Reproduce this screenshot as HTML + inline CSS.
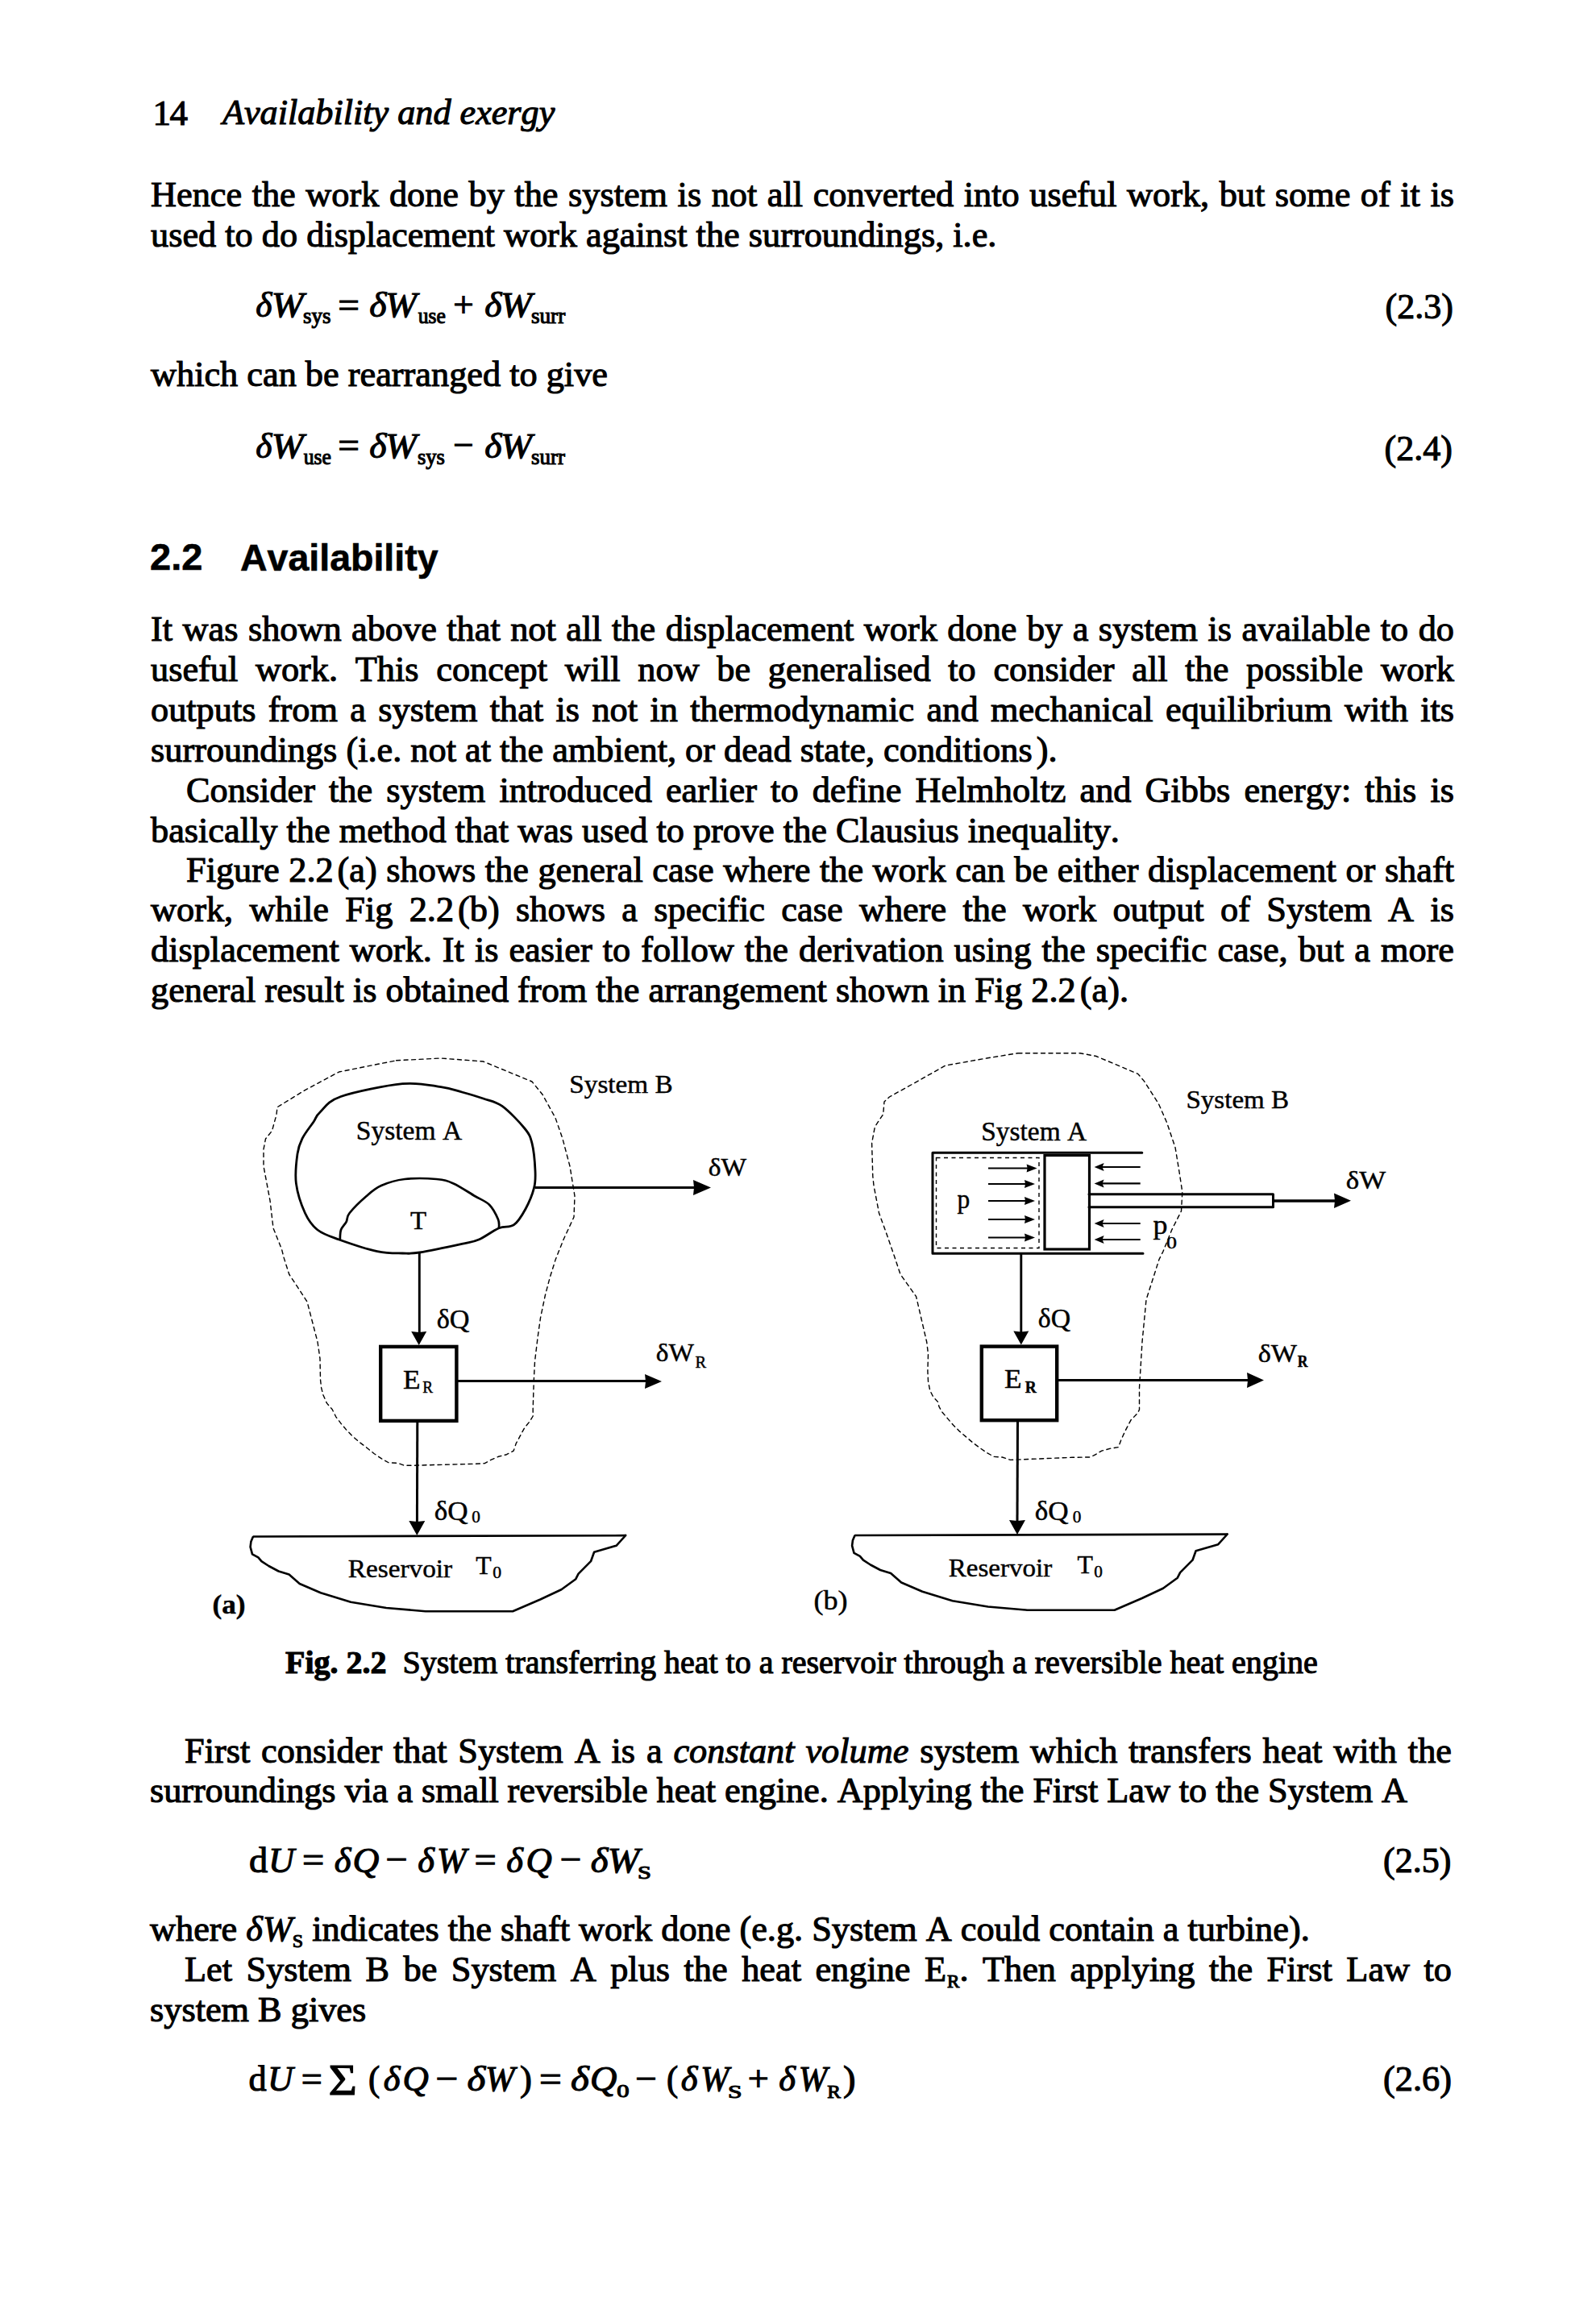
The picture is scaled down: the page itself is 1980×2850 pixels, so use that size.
<!DOCTYPE html>
<html><head><meta charset="utf-8"><title>Availability and exergy</title>
<style>
html,body{margin:0;padding:0;background:#fff;}
body{width:1980px;height:2850px;position:relative;overflow:hidden;color:#000;}
.t{position:absolute;white-space:nowrap;font-family:"Liberation Serif",serif;font-size:44.3px;line-height:44px;-webkit-text-stroke:1.1px #000;font-kerning:none;}
.j{text-align:justify;text-align-last:justify;white-space:nowrap;}
.t sub{font-size:24px;vertical-align:-8px;line-height:0;}
.t sub.r{font-size:23px;vertical-align:-8px;margin-left:1px;}
svg{position:absolute;left:0;top:0;}
svg text{font-family:"Liberation Serif",serif;font-kerning:none;stroke:#000;stroke-width:1.1px;}
svg .fig text{stroke-width:0.45px;}
</style></head><body>
<div class="t j" style="left:187px;top:220.0px;width:1617px;">Hence the work done by the system is not all converted into useful work, but some of it is</div>
<div class="t" style="left:187px;top:269.5px;">used to do displacement work against the surroundings, i.e.</div>
<div class="t" style="left:187px;top:443.0px;">which can be rearranged to give</div>
<div class="t j" style="left:187px;top:758.5px;width:1617px;">It was shown above that not all the displacement work done by a system is available to do</div>
<div class="t j" style="left:187px;top:808.5px;width:1617px;">useful work. This concept will now be generalised to consider all the possible work</div>
<div class="t j" style="left:187px;top:858.7px;width:1617px;">outputs from a system that is not in thermodynamic and mechanical equilibrium with its</div>
<div class="t" style="left:187px;top:909.0px;">surroundings (i.e. not at the ambient, or dead state, conditions<span style="margin-left:5px"></span>).</div>
<div class="t j" style="left:231px;top:959.2px;width:1573px;">Consider the system introduced earlier to define Helmholtz and Gibbs energy: this is</div>
<div class="t" style="left:187px;top:1009.0px;">basically the method that was used to prove the Clausius inequality.</div>
<div class="t j" style="left:231px;top:1057.5px;width:1573px;">Figure 2.2<span style="margin-left:5px"></span>(a) shows the general case where the work can be either displacement or shaft</div>
<div class="t j" style="left:187px;top:1107.0px;width:1617px;">work, while Fig 2.2<span style="margin-left:5px"></span>(b) shows a specific case where the work output of System A is</div>
<div class="t j" style="left:187px;top:1156.5px;width:1617px;">displacement work. It is easier to follow the derivation using the specific case, but a more</div>
<div class="t" style="left:187px;top:1206.5px;">general result is obtained from the arrangement shown in Fig 2.2<span style="margin-left:5px"></span>(a).</div>
<div class="t j" style="left:229px;top:2151.0px;width:1572px;">First consider that System A is a <i>constant volume</i> system which transfers heat with the</div>
<div class="t" style="left:186px;top:2200.0px;letter-spacing:-0.07px;">surroundings via a small reversible heat engine. Applying the First Law to the System A</div>
<div class="t" style="left:186px;top:2372.0px;">where <i>&#948;W</i><sub>S</sub> indicates the shaft work done (e.g. System A could contain a turbine).</div>
<div class="t j" style="left:229px;top:2422.0px;width:1572px;">Let System B be System A plus the heat engine E<sub class='r'>R</sub>. Then applying the First Law to</div>
<div class="t" style="left:186px;top:2471.5px;">system B gives</div>
<div class="t" style="left:189.5px;top:117.5px;font-size:45px;letter-spacing:-1.5px">14</div>
<div class="t" style="left:276px;top:118.0px;font-style:italic;font-size:44.2px">Availability and exergy</div>
<div class="t" style="left:186px;top:668.0px;font-family:'Liberation Sans',sans-serif;font-weight:bold;font-size:47px;line-height:46px;-webkit-text-stroke:0.6px #000">2.2</div>
<div class="t" style="left:298px;top:668.5px;font-family:'Liberation Sans',sans-serif;font-weight:bold;font-size:46.5px;line-height:46px;-webkit-text-stroke:0.6px #000">Availability</div>
<div class="t" style="left:354px;top:2043.0px;font-size:40px;line-height:40px"><b>Fig. 2.2</b>&nbsp; System transferring heat to a reservoir through a reversible heat engine</div>
<svg width="1980" height="2850" viewBox="0 0 1980 2850">
<text transform="translate(317.23,393) scale(0.966,1)" style="font-size:45px;font-style:italic;">&#948;</text>
<text transform="translate(336.83,393) scale(1.068,1)" style="font-size:45px;font-style:italic;">W</text>
<text transform="translate(375.89,401)" style="font-size:27px;">sys</text>
<text transform="translate(419.15,392.5) scale(1.075,1)" style="font-size:44px;">=</text>
<text transform="translate(458.16,393) scale(1.015,1)" style="font-size:45px;font-style:italic;">&#948;</text>
<text transform="translate(477.91,393) scale(1.042,1)" style="font-size:45px;font-style:italic;">W</text>
<text transform="translate(518.66,401) scale(0.951,1)" style="font-size:27px;">use</text>
<text transform="translate(562.25,392.5) scale(1.026,1)" style="font-size:44px;">+</text>
<text transform="translate(601.16,393) scale(1.015,1)" style="font-size:45px;font-style:italic;">&#948;</text>
<text transform="translate(620.91,393) scale(1.042,1)" style="font-size:45px;font-style:italic;">W</text>
<text transform="translate(658.88,401) scale(1.009,1)" style="font-size:27px;">surr</text>
<text transform="translate(317.23,567.5) scale(0.966,1)" style="font-size:45px;font-style:italic;">&#948;</text>
<text transform="translate(336.83,567.5) scale(1.068,1)" style="font-size:45px;font-style:italic;">W</text>
<text transform="translate(376.66,575.5) scale(0.951,1)" style="font-size:27px;">use</text>
<text transform="translate(419.15,567.0) scale(1.075,1)" style="font-size:44px;">=</text>
<text transform="translate(458.16,567.5) scale(1.015,1)" style="font-size:45px;font-style:italic;">&#948;</text>
<text transform="translate(477.91,567.5) scale(1.042,1)" style="font-size:45px;font-style:italic;">W</text>
<text transform="translate(517.91,575.5) scale(0.987,1)" style="font-size:27px;">sys</text>
<text transform="translate(562.25,567.0) scale(1.026,1)" style="font-size:44px;">&#8722;</text>
<text transform="translate(601.16,567.5) scale(1.015,1)" style="font-size:45px;font-style:italic;">&#948;</text>
<text transform="translate(620.91,567.5) scale(1.042,1)" style="font-size:45px;font-style:italic;">W</text>
<text transform="translate(658.90,575.5)" style="font-size:27px;">surr</text>
<text transform="translate(308.93,2322.5) scale(1.052,1)" style="font-size:44px;">d</text>
<text transform="translate(332.91,2322.5) scale(0.990,1)" style="font-size:45px;font-style:italic;">U</text>
<text transform="translate(375.09,2322.0) scale(1.099,1)" style="font-size:44px;">=</text>
<text transform="translate(414.69,2322.5) scale(0.990,1)" style="font-size:45px;font-style:italic;">&#948;</text>
<text transform="translate(437.49,2322.5) scale(1.011,1)" style="font-size:45px;font-style:italic;">Q</text>
<text transform="translate(478.59,2322.0) scale(1.099,1)" style="font-size:44px;">&#8722;</text>
<text transform="translate(518.19,2322.5) scale(0.990,1)" style="font-size:45px;font-style:italic;">&#948;</text>
<text transform="translate(542.11,2322.5) scale(0.976,1)" style="font-size:45px;font-style:italic;">W</text>
<text transform="translate(588.59,2322.0) scale(1.099,1)" style="font-size:44px;">=</text>
<text transform="translate(628.19,2322.5) scale(0.990,1)" style="font-size:45px;font-style:italic;">&#948;</text>
<text transform="translate(652.53,2322.5) scale(0.994,1)" style="font-size:45px;font-style:italic;">Q</text>
<text transform="translate(694.65,2322.0) scale(1.075,1)" style="font-size:44px;">&#8722;</text>
<text transform="translate(732.63,2322.5) scale(1.040,1)" style="font-size:45px;font-style:italic;">&#948;</text>
<text transform="translate(753.87,2322.5) scale(1.055,1)" style="font-size:45px;font-style:italic;">W</text>
<text transform="translate(790.96,2330.6) scale(1.268,1)" style="font-size:24px;">S</text>
<text transform="translate(308.40,2594) scale(1.006,1)" style="font-size:44px;">d</text>
<text transform="translate(331.98,2594) scale(0.974,1)" style="font-size:45px;font-style:italic;">U</text>
<text transform="translate(373.70,2593.5) scale(1.050,1)" style="font-size:44px;">=</text>
<text transform="translate(407.62,2599) scale(1.087,1)" style="font-size:56px;">&#931;</text>
<text transform="translate(457.12,2594) scale(0.973,1)" style="font-size:44px;">(</text>
<text transform="translate(475.69,2594) scale(0.990,1)" style="font-size:45px;font-style:italic;">&#948;</text>
<text transform="translate(499.53,2594) scale(0.994,1)" style="font-size:45px;font-style:italic;">Q</text>
<text transform="translate(540.54,2593.5) scale(1.123,1)" style="font-size:44px;">&#8722;</text>
<text transform="translate(579.56,2594) scale(1.089,1)" style="font-size:45px;font-style:italic;">&#948;</text>
<text transform="translate(602.11,2594) scale(0.976,1)" style="font-size:45px;font-style:italic;">W</text>
<text transform="translate(645.06,2594) scale(1.018,1)" style="font-size:44px;">)</text>
<text transform="translate(669.04,2593.5) scale(1.123,1)" style="font-size:44px;">=</text>
<text transform="translate(708.06,2594) scale(1.089,1)" style="font-size:45px;font-style:italic;">&#948;</text>
<text transform="translate(731.95,2594) scale(1.028,1)" style="font-size:45px;font-style:italic;">Q</text>
<text transform="translate(765.33,2602) scale(1.278,1)" style="font-size:24px;">0</text>
<text transform="translate(788.15,2593.5) scale(1.075,1)" style="font-size:44px;">&#8722;</text>
<text transform="translate(827.12,2594) scale(0.973,1)" style="font-size:44px;">(</text>
<text transform="translate(844.69,2594) scale(0.990,1)" style="font-size:45px;font-style:italic;">&#948;</text>
<text transform="translate(869.22,2594) scale(0.936,1)" style="font-size:45px;font-style:italic;">W</text>
<text transform="translate(902.89,2602.5) scale(1.317,1)" style="font-size:24px;">S</text>
<text transform="translate(927.70,2593.5) scale(1.050,1)" style="font-size:44px;">+</text>
<text transform="translate(966.19,2594) scale(0.990,1)" style="font-size:45px;font-style:italic;">&#948;</text>
<text transform="translate(990.68,2594) scale(0.949,1)" style="font-size:45px;font-style:italic;">W</text>
<text transform="translate(1026.28,2602.5) scale(1.047,1)" style="font-size:24px;">R</text>
<text transform="translate(1045.99,2594) scale(1.062,1)" style="font-size:44px;">)</text>
<text transform="translate(1718.56,395)" style="font-size:44px;">(2.3)</text>
<text transform="translate(1717.56,570.5)" style="font-size:44px;">(2.4)</text>
<text transform="translate(1716.06,2322.5)" style="font-size:44px;">(2.5)</text>
<text transform="translate(1716.05,2594) scale(1.007,1)" style="font-size:44px;">(2.6)</text>
<g class="fig">
<path d="M491.6,1315.8 L547.0,1313.0 L599.5,1317.0 L660.0,1342.0 L673.0,1358.0 L689.0,1387.0 L698.0,1413.0 L707.0,1447.0 L713.0,1484.0 L712.0,1510.0 L699.5,1537.0 L689.3,1562.4 L682.3,1584.7 L676.4,1607.0 L670.5,1635.2 L667.0,1660.0 L663.5,1689.3 L662.3,1712.8 L661.2,1748.0 L661.2,1757.0 L657.4,1763.3 L650.7,1771.6 L645.4,1781.4 L640.2,1791.1 L637.1,1800.2 L628.5,1804.7 L618.3,1807.3 L609.0,1811.4 L601.4,1815.6 L589.0,1816.3 L513.7,1818.2 L501.3,1818.2 L493.4,1815.3 L482.1,1814.8 L473.1,1809.7 L464.0,1803.5 L455.0,1796.2 L446.0,1789.4 L438.1,1782.6 L430.2,1774.7 L423.5,1766.8 L416.7,1757.8 L412.2,1748.8 L405.4,1740.9 L400.9,1730.7 L398.6,1721.7 L397.5,1711.6 L397.0,1685.6 L394.0,1665.0 L381.0,1615.0 L358.7,1581.0 L352.0,1560.0 L349.5,1550.0 L339.0,1523.7 L335.0,1489.5 L327.0,1447.0 L327.0,1426.0 L329.5,1413.0 L337.5,1403.0 L343.0,1383.0 L344.0,1373.7 L378.4,1352.6 L420.5,1330.0 Z" fill="none" stroke="#000" stroke-width="1.4" stroke-linejoin="round" stroke-linecap="round" stroke-dasharray="5 4.5"/>
<path d="M499.5,1344.7 C520.2,1342.7 534.8,1347.0 547.0,1348.7 C559.2,1350.4 564.2,1352.6 573.0,1355.0 C581.8,1357.4 591.2,1360.1 599.5,1363.0 C607.8,1365.9 614.5,1366.2 623.0,1372.4 C631.5,1378.6 644.6,1392.3 650.8,1400.0 C657.0,1407.7 657.8,1409.6 660.0,1418.4 C662.2,1427.2 663.6,1443.4 664.0,1452.6 C664.4,1461.8 664.6,1465.8 662.6,1473.7 C660.6,1481.6 656.2,1492.3 652.0,1500.0 C647.8,1507.7 643.1,1515.8 637.6,1519.7 C632.1,1523.7 626.3,1520.7 619.0,1523.7 C611.7,1526.8 601.7,1534.7 594.0,1538.0 C586.3,1541.3 585.2,1540.7 573.0,1543.4 C560.8,1546.1 532.8,1552.1 520.5,1554.0 C508.2,1555.9 508.2,1555.2 499.5,1555.0 C490.8,1554.8 481.2,1555.4 468.0,1552.6 C454.8,1549.8 432.8,1542.4 420.5,1538.0 C408.2,1533.6 401.0,1531.5 394.0,1526.0 C387.0,1520.5 382.8,1514.6 378.4,1505.0 C374.0,1495.4 369.0,1480.6 367.4,1468.4 C365.8,1456.2 367.7,1440.9 369.0,1431.6 C370.3,1422.3 371.7,1419.2 375.0,1412.6 C378.3,1406.0 385.3,1397.4 389.0,1392.0 C392.7,1386.6 391.3,1385.2 397.0,1380.0 C402.7,1374.8 405.9,1366.4 423.0,1360.5 C440.1,1354.6 478.8,1346.7 499.5,1344.7 Z" fill="none" stroke="#000" stroke-width="2.8" stroke-linejoin="round"/>
<path d="M421.8,1538.0 C422.0,1536.0 421.7,1529.7 423.0,1526.0 C424.3,1522.3 427.9,1519.3 429.7,1515.8 C431.5,1512.3 429.5,1510.3 433.7,1505.0 C437.9,1499.7 448.1,1489.7 454.7,1484.0 C461.2,1478.3 465.1,1474.5 473.0,1471.0 C480.9,1467.5 490.6,1464.3 502.0,1463.0 C513.4,1461.7 531.5,1462.1 541.6,1463.0 C551.7,1463.9 554.7,1464.9 562.6,1468.4 C570.5,1471.9 581.6,1479.6 589.0,1484.0 C596.4,1488.4 602.2,1489.9 607.0,1494.7 C611.8,1499.5 616.0,1508.2 618.0,1513.0 C620.0,1517.8 618.8,1521.9 619.0,1523.7" fill="none" stroke="#000" stroke-width="2.7" stroke-linejoin="round"/>
<text transform="translate(441.75,1413.7) scale(1.017,1)" style="font-size:33px;">System A</text>
<text transform="translate(508.91,1525) scale(1.025,1)" style="font-size:32px;">T</text>
<text transform="translate(706.28,1355.6) scale(1.023,1)" style="font-size:32.5px;">System B</text>
<line x1="664" y1="1473.5" x2="864" y2="1473.5" stroke="#000" stroke-width="3.0"/>
<path d="M882,1473.5 L860,1464.0 L861,1473.5 L860,1483.0 Z" fill="#000"/>
<text transform="translate(878.74,1459) scale(1.029,1)" style="font-size:32.5px;">&#948;W</text>
<line x1="520.3" y1="1555" x2="520.3" y2="1656" stroke="#000" stroke-width="2.9"/>
<path d="M519.7,1669 L510.20000000000005,1652 L519.7,1653 L529.2,1652 Z" fill="#000"/>
<text transform="translate(541.71,1647.6) scale(1.038,1)" style="font-size:33px;">&#948;Q</text>
<rect x="472.2" y="1670.9" width="94.2" height="92" fill="none" stroke="#000" stroke-width="4.4"/>
<text transform="translate(499.98,1722.8) scale(1.039,1)" style="font-size:34px;">E</text>
<text transform="translate(524.25,1727.8) scale(0.958,1)" style="font-size:20px;">R</text>
<line x1="568" y1="1713.6" x2="803" y2="1713.6" stroke="#000" stroke-width="3.0"/>
<path d="M821,1714 L800,1705.0 L801,1714 L800,1723.0 Z" fill="#000"/>
<text transform="translate(813.75,1689.2) scale(1.025,1)" style="font-size:32.5px;">&#948;W</text>
<text transform="translate(862.41,1696.6) scale(1.021,1)" style="font-size:20px;">R</text>
<line x1="517.8" y1="1764" x2="517.4" y2="1890" stroke="#000" stroke-width="3.0"/>
<path d="M517.3,1905 L507.29999999999995,1887 L517.3,1888 L527.3,1887 Z" fill="#000"/>
<text transform="translate(538.68,1885.8) scale(1.065,1)" style="font-size:33px;">&#948;Q</text>
<text transform="translate(585.19,1889) scale(1.062,1)" style="font-size:20px;">0</text>
<path d="M313.8,1907.1 L311.4,1912.8 L310.6,1919.3 L313.0,1928.3 L320.4,1932.4 L324.4,1937.2 L333.4,1943.0 L345.6,1949.5 L358.6,1953.5 L371.7,1965.0 L397.8,1976.3 L435.2,1987.8 L479.2,1995.0 L528.0,1999.2 L636.1,1999.2 L670.3,1984.5 L696.4,1972.3 L714.3,1959.2 L717.6,1952.7 L733.0,1937.2 L737.1,1925.8 L764.8,1917.7 L776.2,1905.0" fill="none" stroke="#000" stroke-width="2.6" stroke-linejoin="round" stroke-linecap="round"/>
<line x1="313.8" y1="1906.5" x2="776.2" y2="1905.2" stroke="#000" stroke-width="2.7"/>
<text transform="translate(431.74,1956.8) scale(1.025,1)" style="font-size:32.5px;">Reservoir</text>
<text transform="translate(590.23,1953) scale(0.993,1)" style="font-size:32px;">T</text>
<text transform="translate(611.17,1957.8) scale(1.085,1)" style="font-size:20px;">0</text>
<text transform="translate(263.45,2002) scale(1.068,1)" style="font-size:33px;font-weight:bold;">(a)</text>
<path d="M1263.0,1306.7 L1340.0,1306.7 L1360.0,1310.5 L1411.7,1332.4 L1419.4,1341.4 L1437.4,1369.6 L1447.6,1392.8 L1458.0,1423.6 L1463.0,1454.0 L1466.8,1479.0 L1465.5,1502.6 L1453.7,1526.0 L1443.0,1552.6 L1438.0,1562.6 L1422.0,1612.6 L1417.0,1665.0 L1413.5,1722.0 L1413.5,1749.0 L1411.2,1753.5 L1402.9,1762.1 L1396.2,1774.9 L1391.3,1785.4 L1387.5,1795.6 L1378.1,1797.1 L1366.8,1800.1 L1357.4,1805.7 L1351.8,1808.0 L1330.0,1808.3 L1268.2,1810.8 L1253.5,1811.4 L1243.4,1808.0 L1233.2,1807.4 L1224.2,1802.4 L1215.2,1796.2 L1206.2,1789.4 L1198.3,1782.6 L1190.4,1775.9 L1182.5,1768.0 L1175.7,1760.1 L1169.0,1752.2 L1165.0,1745.4 L1163.9,1739.8 L1157.7,1733.0 L1153.7,1725.1 L1151.5,1713.8 L1150.9,1701.4 L1151.5,1680.0 L1149.7,1665.0 L1136.6,1608.7 L1117.0,1581.0 L1110.0,1560.0 L1101.0,1534.0 L1090.5,1505.0 L1084.0,1471.0 L1082.8,1459.5 L1081.6,1418.4 L1085.4,1398.0 L1095.7,1382.5 L1097.0,1367.0 L1103.4,1361.0 L1134.0,1344.0 L1173.0,1322.0 L1224.0,1313.0 Z" fill="none" stroke="#000" stroke-width="1.4" stroke-linejoin="round" stroke-linecap="round" stroke-dasharray="5 4.5"/>
<path d="M1416.8,1430.3 L1157.0,1430.3 L1157.0,1555.3 L1418.0,1555.3" fill="none" stroke="#000" stroke-width="3.0" stroke-linejoin="round" stroke-linecap="round"/>
<rect x="1161.5" y="1436.5" width="127.5" height="112" fill="none" stroke="#000" stroke-width="1.4" stroke-dasharray="5 4.5"/>
<rect x="1296" y="1433.5" width="55.5" height="116.5" fill="none" stroke="#000" stroke-width="3.2"/>
<line x1="1226" y1="1449.5" x2="1278.6" y2="1449.5" stroke="#000" stroke-width="2.2"/>
<path d="M1286.6,1449.5 L1273.6,1444.5 L1274.6,1449.5 L1273.6,1454.5 Z" fill="#000"/>
<line x1="1226" y1="1469" x2="1276" y2="1469" stroke="#000" stroke-width="2.2"/>
<path d="M1284,1469 L1271,1464.0 L1272,1469 L1271,1474.0 Z" fill="#000"/>
<line x1="1226" y1="1490" x2="1276" y2="1490" stroke="#000" stroke-width="2.2"/>
<path d="M1284,1490 L1271,1485.0 L1272,1490 L1271,1495.0 Z" fill="#000"/>
<line x1="1226" y1="1513" x2="1276" y2="1513" stroke="#000" stroke-width="2.2"/>
<path d="M1284,1513 L1271,1508.0 L1272,1513 L1271,1518.0 Z" fill="#000"/>
<line x1="1226" y1="1535.5" x2="1276" y2="1535.5" stroke="#000" stroke-width="2.2"/>
<path d="M1284,1535.5 L1271,1530.5 L1272,1535.5 L1271,1540.5 Z" fill="#000"/>
<line x1="1366" y1="1448" x2="1414.7" y2="1448" stroke="#000" stroke-width="2.2"/>
<path d="M1357.6,1448 L1369.6,1443.0 L1367.6,1448 L1369.6,1453.0 Z" fill="#000"/>
<line x1="1366" y1="1468.4" x2="1414.7" y2="1468.4" stroke="#000" stroke-width="2.2"/>
<path d="M1357.6,1468.4 L1369.6,1463.4 L1367.6,1468.4 L1369.6,1473.4 Z" fill="#000"/>
<line x1="1366" y1="1518" x2="1414.7" y2="1518" stroke="#000" stroke-width="2.2"/>
<path d="M1357.6,1518 L1369.6,1513.0 L1367.6,1518 L1369.6,1523.0 Z" fill="#000"/>
<line x1="1366" y1="1538" x2="1414.7" y2="1538" stroke="#000" stroke-width="2.2"/>
<path d="M1357.6,1538 L1369.6,1533.0 L1367.6,1538 L1369.6,1543.0 Z" fill="#000"/>
<path d="M1351.0,1481.8 L1579.5,1481.8 L1579.5,1497.8 L1351.0,1497.8" fill="none" stroke="#000" stroke-width="3.0" stroke-linejoin="round" stroke-linecap="round"/>
<line x1="1581" y1="1490" x2="1660" y2="1490" stroke="#000" stroke-width="3.6"/>
<path d="M1676,1489.7 L1655,1480.45 L1656,1489.7 L1655,1498.95 Z" fill="#000"/>
<text transform="translate(1669.69,1475) scale(1.074,1)" style="font-size:32.5px;">&#948;W</text>
<text transform="translate(1217.26,1415) scale(1.013,1)" style="font-size:33px;">System A</text>
<text transform="translate(1471.39,1374.5) scale(1.018,1)" style="font-size:32.5px;">System B</text>
<text transform="translate(1187.49,1499) scale(0.954,1)" style="font-size:33px;">p</text>
<text transform="translate(1430.42,1531) scale(1.090,1)" style="font-size:33px;">p</text>
<text transform="translate(1447.01,1548.5) scale(1.298,1)" style="font-size:20px;">0</text>
<line x1="1266.8" y1="1555" x2="1266.8" y2="1656" stroke="#000" stroke-width="2.9"/>
<path d="M1266.8,1668.5 L1257.3,1651.5 L1266.8,1652.5 L1276.3,1651.5 Z" fill="#000"/>
<text transform="translate(1287.73,1646.5) scale(1.025,1)" style="font-size:33px;">&#948;Q</text>
<rect x="1217.8" y="1670.6" width="93.4" height="91.6" fill="none" stroke="#000" stroke-width="4.4"/>
<text transform="translate(1245.98,1722) scale(1.039,1)" style="font-size:34px;">E</text>
<text transform="translate(1271.67,1728.4) scale(0.967,1)" style="font-size:20px;font-weight:bold;">R</text>
<line x1="1313" y1="1712.6" x2="1550" y2="1712.6" stroke="#000" stroke-width="3.0"/>
<path d="M1568,1712.6 L1547,1703.1 L1548,1712.6 L1547,1722.1 Z" fill="#000"/>
<text transform="translate(1560.72,1689.5) scale(1.051,1)" style="font-size:32.5px;">&#948;W</text>
<text transform="translate(1609.70,1696) scale(0.876,1)" style="font-size:20px;font-weight:bold;">R</text>
<line x1="1262.5" y1="1764" x2="1262" y2="1890" stroke="#000" stroke-width="3.0"/>
<path d="M1262,1904 L1252.0,1886 L1262,1887 L1272.0,1886 Z" fill="#000"/>
<text transform="translate(1283.68,1886) scale(1.065,1)" style="font-size:33px;">&#948;Q</text>
<text transform="translate(1330.69,1889) scale(1.062,1)" style="font-size:20px;">0</text>
<path d="M1060.3,1905.6 L1057.9,1911.3 L1057.1,1917.8 L1059.5,1926.8 L1066.9,1930.9 L1070.9,1935.7 L1079.9,1941.5 L1092.1,1948.0 L1105.1,1952.0 L1118.2,1963.5 L1144.3,1974.8 L1181.7,1986.3 L1225.7,1993.5 L1274.5,1997.7 L1382.6,1997.7 L1416.8,1983.0 L1442.9,1970.8 L1460.8,1957.7 L1464.1,1951.2 L1479.5,1935.7 L1483.6,1924.3 L1511.3,1916.2 L1522.7,1903.5" fill="none" stroke="#000" stroke-width="2.6" stroke-linejoin="round" stroke-linecap="round"/>
<line x1="1060.3" y1="1905" x2="1522.7" y2="1903.7" stroke="#000" stroke-width="2.7"/>
<text transform="translate(1176.65,1955.5) scale(1.018,1)" style="font-size:32.5px;">Reservoir</text>
<text transform="translate(1336.43,1951.5) scale(0.993,1)" style="font-size:32px;">T</text>
<text transform="translate(1357.19,1956.5) scale(1.062,1)" style="font-size:20px;">0</text>
<text transform="translate(1009.41,1997) scale(1.096,1)" style="font-size:33px;">(b)</text>
</g>
</svg>
</body></html>
